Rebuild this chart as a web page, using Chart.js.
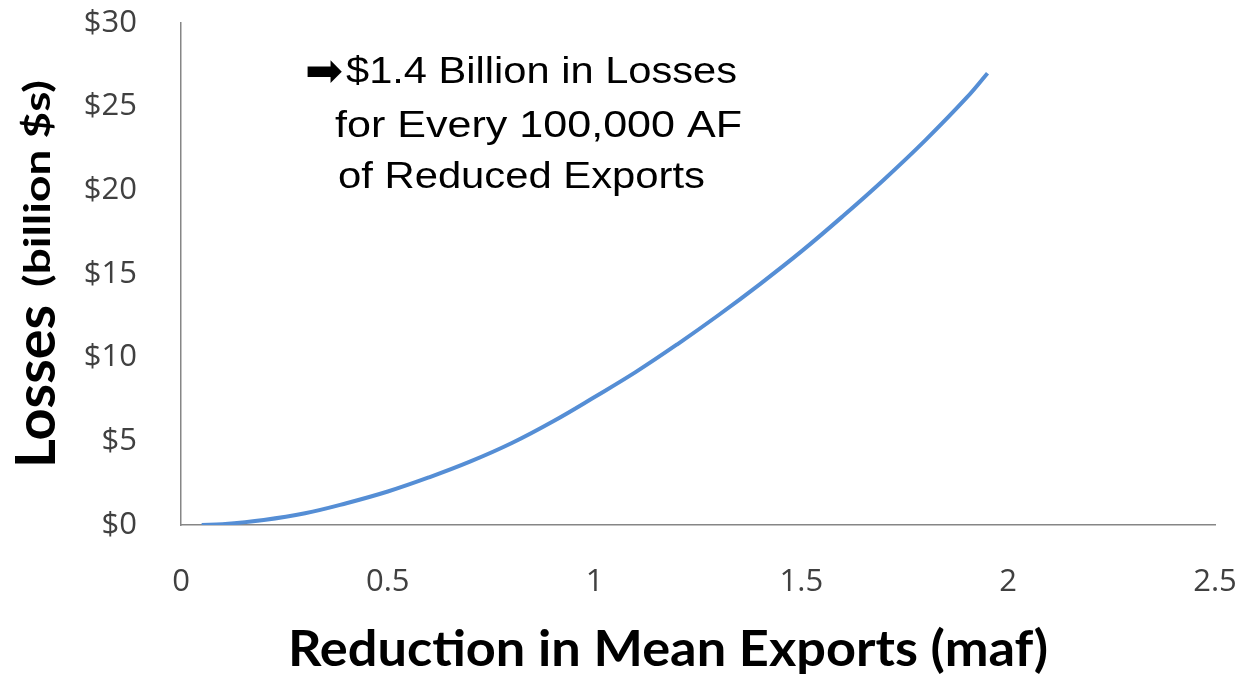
<!DOCTYPE html>
<html>
<head>
<meta charset="utf-8">
<script src="https://cdn.jsdelivr.net/npm/chart.js@4.4.0/dist/chart.umd.min.js"></script>
<style>
  html, body { margin: 0; padding: 0; background: #fff; }
  #wrap { width: 1243px; height: 674px; }
</style>
</head>
<body>
<div id="wrap"><canvas id="loss-chart" width="1243" height="674"></canvas></div>
<script>
// reduction in mean exports (maf) and losses (billion $)
const exportsReduction = [0.05, 0.1, 0.2, 0.3, 0.4, 0.5, 0.6, 0.7, 0.8, 0.9, 1.0, 1.1, 1.2, 1.3, 1.4, 1.5, 1.6, 1.7, 1.8, 1.9, 1.95];
const losses = [0, 0.05, 0.3, 0.7, 1.3, 2.0, 2.85, 3.8, 4.9, 6.2, 7.65, 9.15, 10.8, 12.55, 14.4, 16.35, 18.45, 20.65, 23.0, 25.55, 27.0];
const xTicks = [0, 0.5, 1, 1.5, 2, 2.5];
const yTicks = [0, 5, 10, 15, 20, 25, 30];
const noteLines = ['$1.4 Billion in Losses', 'for Every 100,000 AF', 'of Reduced Exports'];

// draw text stretched to a given width (the original picture is wider than tall)
function fitText(ctx, text, font, x, y, w) {
    ctx.font = font;
    const m = ctx.measureText(text).width;
    ctx.save();
    ctx.translate(x, y);
    ctx.scale(w / m, 1);
    ctx.fillText(text, 0, 0);
    ctx.restore();
}

const textPlugin = {
    id: 'texts',
    afterDraw(chart) {
        const ctx = chart.ctx;
        ctx.save();
        ctx.fillStyle = '#000';
        ctx.textBaseline = 'alphabetic';
        ctx.textAlign = 'left';

        // note
        const f = '36px "Liberation Sans", Arial';
        fitText(ctx, '\u27A1', '46px "DejaVu Sans"', 305, 86, 38);
        fitText(ctx, noteLines[0], f, 346, 83, 391);
        fitText(ctx, noteLines[1], f, 335, 137, 407);
        fitText(ctx, noteLines[2], f, 338, 188, 367);

        // x title
        fitText(ctx, 'Reduction in Mean Exports (maf)', 'bold 50px Lato', 288, 666, 760);

        // y title, rotated
        ctx.save();
        ctx.translate(55, 468);
        ctx.rotate(-Math.PI / 2);
        fitText(ctx, 'Losses', 'bold 55px Lato', 0, 0, 163);
        ctx.restore();
        ctx.save();
        ctx.translate(50, 287);
        ctx.rotate(-Math.PI / 2);
        fitText(ctx, '(billion $s)', 'bold 37px Lato', 0, 0, 207);
        ctx.restore();

        ctx.restore();
    }
};

const points = exportsReduction.map((x, i) => ({ x: x, y: losses[i] }));

new Chart(document.getElementById('loss-chart'), {
    type: 'line',
    data: {
        datasets: [{
            data: points,
            borderColor: '#558ED5',
            borderWidth: 4,
            pointRadius: 0,
            tension: 0.4,
            fill: false
        }]
    },
    options: {
        responsive: false,
        animation: false,
        layout: { padding: { top: 23, right: 28, left: 0, bottom: 0 } },
        plugins: { legend: { display: false }, tooltip: { enabled: false } },
        scales: {
            x: {
                type: 'linear',
                min: 0,
                max: 2.5,
                afterBuildTicks: s => { s.ticks = xTicks.map(v => ({ value: v })); },
                afterFit: s => { s.height = 149; s.paddingLeft = 0; s.paddingRight = 0; },
                grid: { display: false },
                border: { display: true, color: '#868686', width: 1.5 },
                ticks: {
                    padding: 31,
                    color: '#404040',
                    font: { family: 'Open Sans', size: 31 },
                    callback: v => String(v)
                }
            },
            y: {
                min: 0,
                max: 30,
                afterBuildTicks: s => { s.ticks = yTicks.map(v => ({ value: v })); },
                afterFit: s => { s.width = 181; s.paddingTop = 0; s.paddingBottom = 0; },
                grid: { display: false },
                border: { display: true, color: '#868686', width: 1.5 },
                ticks: {
                    padding: 36,
                    color: '#404040',
                    font: { family: 'Open Sans', size: 31 },
                    callback: v => '$' + v
                }
            }
        }
    },
    plugins: [textPlugin]
});
</script>
</body>
</html>
